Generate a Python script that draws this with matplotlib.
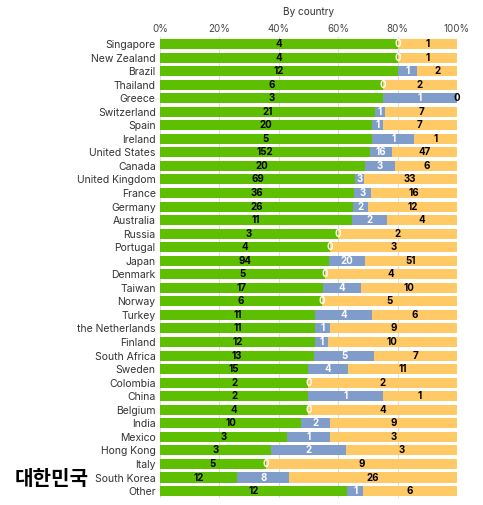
import numpy as np
import matplotlib.pyplot as plt

plt.rcParams['font.family'] = ['Inter', 'DejaVu Sans']

countries = ["Singapore", "New Zealand", "Brazil", "Thailand", "Greece", "Switzerland",
             "Spain", "Ireland", "United States", "Canada", "United Kingdom", "France",
             "Germany", "Australia", "Russia", "Portugal", "Japan", "Denmark", "Taiwan",
             "Norway", "Turkey", "the Netherlands", "Finland", "South Africa", "Sweden",
             "Colombia", "China", "Belgium", "India", "Mexico", "Hong Kong", "Italy",
             "South Korea", "Other"]
green = [4, 4, 12, 6, 3, 21, 20, 5, 152, 20, 69, 36, 26, 11, 3, 4, 94, 5, 17, 6, 11, 11,
         12, 13, 15, 2, 2, 4, 10, 3, 3, 5, 12, 12]
blue = [0, 0, 1, 0, 1, 1, 1, 1, 16, 3, 3, 3, 2, 2, 0, 0, 20, 0, 4, 0, 4, 1, 1, 5, 4, 0,
        1, 0, 2, 1, 2, 0, 8, 1]
yellow = [1, 1, 2, 2, 0, 7, 7, 1, 47, 6, 33, 16, 12, 4, 2, 3, 51, 4, 10, 5, 6, 9, 10, 7,
          11, 2, 1, 4, 9, 3, 3, 9, 26, 6]

c_green = '#5ebf00'
c_blue = '#7f9cca'
c_yellow = '#ffc966'

g = np.array(green, float)
b = np.array(blue, float)
yv = np.array(yellow, float)
tot = g + b + yv
gp, bp, yp = g / tot * 100, b / tot * 100, yv / tot * 100
ypos = np.arange(len(countries))

fig = plt.figure(figsize=(4.83, 5.05), dpi=100)
ax = fig.add_axes([0.331, 0.0142, 0.615, 0.9121])

h = 0.74
ax.barh(ypos, gp, height=h, color=c_green, zorder=2)
ax.barh(ypos, bp, left=gp, height=h, color=c_blue, zorder=2)
ax.barh(ypos, yp, left=gp + bp, height=h, color=c_yellow, zorder=2)

fs = 7
for i in ypos:
    # green
    ax.text(gp[i] / 2, i, str(green[i]), ha='center', va='center', fontsize=fs,
            fontweight='bold', color='black', zorder=3)
    # blue
    if blue[i] > 0:
        ax.text(gp[i] + bp[i] / 2, i, str(blue[i]), ha='center', va='center', fontsize=fs,
                fontweight='bold', color='white', zorder=3)
    else:
        ax.text(gp[i], i, '0', ha='center', va='center', fontsize=fs,
                fontweight='bold', color='white', zorder=3)
    # yellow
    if yellow[i] > 0:
        ax.text(gp[i] + bp[i] + yp[i] / 2, i, str(yellow[i]), ha='center', va='center',
                fontsize=fs, fontweight='bold', color='black', zorder=3)
    else:
        ax.text(100, i, '0', ha='center', va='center', fontsize=fs,
                fontweight='bold', color='black', zorder=3)

ax.set_xlim(0, 100)
ax.set_ylim(len(countries) - 0.5, -0.5)
ax.set_yticks(ypos)
ax.set_yticklabels(countries, fontsize=7.5, color='#333333')
ax.set_xticks([0, 20, 40, 60, 80, 100])
ax.set_xticklabels(['0%', '20%', '40%', '60%', '80%', '100%'], fontsize=7, color='#444444')
ax.xaxis.tick_top()
ax.xaxis.set_label_position('top')
ax.set_xlabel('By country', fontsize=7.2, color='#333333', labelpad=7)
ax.tick_params(axis='both', length=0, pad=3)
ax.tick_params(axis='x', pad=2)
ax.grid(axis='x', color='#dddddd', linewidth=0.8, zorder=0)
for s in ax.spines.values():
    s.set_visible(False)

fig.text(0.03, 0.053, '대한민국', fontsize=14.5, family=['Noto Sans CJK KR'],
         fontweight='bold', color='black', va='center', ha='left')

fig.savefig('out.png', dpi=100)
